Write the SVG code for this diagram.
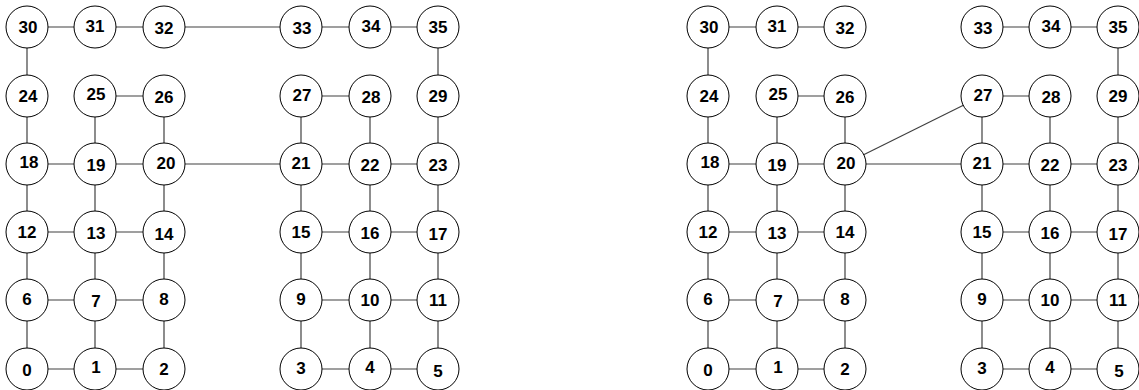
<svg xmlns="http://www.w3.org/2000/svg" width="1139" height="390" viewBox="0 0 1139 390">
<style>
.e{stroke:#404040;stroke-width:1.2;fill:none}
.n circle{fill:#fff;stroke:#000;stroke-width:1}
.n text{font-family:"Liberation Sans",Arial,sans-serif;font-weight:bold;font-size:17px;text-anchor:middle;fill:#000}
</style>
<rect width="1139" height="390" fill="#fff"/>
<g id="connectors">
<line class="e" x1="27" y1="27" x2="95" y2="27"/>
<line class="e" x1="95" y1="27" x2="164" y2="27"/>
<line class="e" x1="164" y1="27" x2="301" y2="27"/>
<line class="e" x1="301" y1="27" x2="370" y2="27"/>
<line class="e" x1="370" y1="27" x2="438" y2="27"/>
<line class="e" x1="95" y1="96" x2="164" y2="96"/>
<line class="e" x1="301" y1="96" x2="370" y2="96"/>
<line class="e" x1="27" y1="164" x2="95" y2="164"/>
<line class="e" x1="95" y1="164" x2="164" y2="164"/>
<line class="e" x1="164" y1="164" x2="301" y2="164"/>
<line class="e" x1="301" y1="164" x2="370" y2="164"/>
<line class="e" x1="370" y1="164" x2="438" y2="164"/>
<line class="e" x1="27" y1="232" x2="95" y2="232"/>
<line class="e" x1="95" y1="232" x2="164" y2="232"/>
<line class="e" x1="301" y1="232" x2="370" y2="232"/>
<line class="e" x1="370" y1="232" x2="438" y2="232"/>
<line class="e" x1="27" y1="300" x2="95" y2="300"/>
<line class="e" x1="95" y1="300" x2="164" y2="300"/>
<line class="e" x1="301" y1="300" x2="370" y2="300"/>
<line class="e" x1="370" y1="300" x2="438" y2="300"/>
<line class="e" x1="27" y1="369" x2="95" y2="369"/>
<line class="e" x1="95" y1="369" x2="164" y2="369"/>
<line class="e" x1="301" y1="369" x2="370" y2="369"/>
<line class="e" x1="370" y1="369" x2="438" y2="369"/>
<line class="e" x1="27" y1="27" x2="27" y2="96"/>
<line class="e" x1="438" y1="27" x2="438" y2="96"/>
<line class="e" x1="27" y1="96" x2="27" y2="369"/>
<line class="e" x1="95" y1="96" x2="95" y2="369"/>
<line class="e" x1="164" y1="96" x2="164" y2="369"/>
<line class="e" x1="301" y1="96" x2="301" y2="369"/>
<line class="e" x1="370" y1="96" x2="370" y2="369"/>
<line class="e" x1="438" y1="96" x2="438" y2="369"/>
<line class="e" x1="708" y1="27" x2="777" y2="27"/>
<line class="e" x1="777" y1="27" x2="845" y2="27"/>
<line class="e" x1="982" y1="27" x2="1050" y2="27"/>
<line class="e" x1="1050" y1="27" x2="1118" y2="27"/>
<line class="e" x1="777" y1="96" x2="845" y2="96"/>
<line class="e" x1="982" y1="96" x2="1050" y2="96"/>
<line class="e" x1="845" y1="164" x2="982" y2="96"/>
<line class="e" x1="708" y1="164" x2="777" y2="164"/>
<line class="e" x1="777" y1="164" x2="845" y2="164"/>
<line class="e" x1="845" y1="164" x2="982" y2="164"/>
<line class="e" x1="982" y1="164" x2="1050" y2="164"/>
<line class="e" x1="1050" y1="164" x2="1118" y2="164"/>
<line class="e" x1="708" y1="232" x2="777" y2="232"/>
<line class="e" x1="777" y1="232" x2="845" y2="232"/>
<line class="e" x1="982" y1="232" x2="1050" y2="232"/>
<line class="e" x1="1050" y1="232" x2="1118" y2="232"/>
<line class="e" x1="708" y1="300" x2="777" y2="300"/>
<line class="e" x1="777" y1="300" x2="845" y2="300"/>
<line class="e" x1="982" y1="300" x2="1050" y2="300"/>
<line class="e" x1="1050" y1="300" x2="1118" y2="300"/>
<line class="e" x1="708" y1="369" x2="777" y2="369"/>
<line class="e" x1="777" y1="369" x2="845" y2="369"/>
<line class="e" x1="982" y1="369" x2="1050" y2="369"/>
<line class="e" x1="1050" y1="369" x2="1118" y2="369"/>
<line class="e" x1="708" y1="27" x2="708" y2="96"/>
<line class="e" x1="1118" y1="27" x2="1118" y2="96"/>
<line class="e" x1="708" y1="96" x2="708" y2="369"/>
<line class="e" x1="777" y1="96" x2="777" y2="369"/>
<line class="e" x1="845" y1="96" x2="845" y2="369"/>
<line class="e" x1="982" y1="96" x2="982" y2="369"/>
<line class="e" x1="1050" y1="96" x2="1050" y2="369"/>
<line class="e" x1="1118" y1="96" x2="1118" y2="369"/>
</g>
<g id="left-graph">
<g id="L0" class="n"><circle cx="27" cy="369" r="21"/><text x="27" y="376">0</text></g>
<g id="L1" class="n"><circle cx="95" cy="369" r="21"/><text x="96" y="373">1</text></g>
<g id="L2" class="n"><circle cx="164" cy="369" r="21"/><text x="164" y="375">2</text></g>
<g id="L3" class="n"><circle cx="301" cy="369" r="21"/><text x="301" y="374">3</text></g>
<g id="L4" class="n"><circle cx="370" cy="369" r="21"/><text x="370" y="373">4</text></g>
<g id="L5" class="n"><circle cx="438" cy="369" r="21"/><text x="438" y="377">5</text></g>
<g id="L6" class="n"><circle cx="27" cy="300" r="21"/><text x="27" y="305">6</text></g>
<g id="L7" class="n"><circle cx="95" cy="300" r="21"/><text x="96" y="307">7</text></g>
<g id="L8" class="n"><circle cx="164" cy="300" r="21"/><text x="164" y="305">8</text></g>
<g id="L9" class="n"><circle cx="301" cy="300" r="21"/><text x="301" y="305">9</text></g>
<g id="L10" class="n"><circle cx="370" cy="300" r="21"/><text x="370" y="306">10</text></g>
<g id="L11" class="n"><circle cx="438" cy="300" r="21"/><text x="438" y="306">11</text></g>
<g id="L12" class="n"><circle cx="27" cy="232" r="21"/><text x="27" y="238">12</text></g>
<g id="L13" class="n"><circle cx="95" cy="232" r="21"/><text x="96" y="239">13</text></g>
<g id="L14" class="n"><circle cx="164" cy="232" r="21"/><text x="164" y="240">14</text></g>
<g id="L15" class="n"><circle cx="301" cy="232" r="21"/><text x="301" y="238">15</text></g>
<g id="L16" class="n"><circle cx="370" cy="232" r="21"/><text x="370" y="239">16</text></g>
<g id="L17" class="n"><circle cx="438" cy="232" r="21"/><text x="438" y="240">17</text></g>
<g id="L18" class="n"><circle cx="27" cy="164" r="21"/><text x="29" y="168">18</text></g>
<g id="L19" class="n"><circle cx="95" cy="164" r="21"/><text x="96" y="171">19</text></g>
<g id="L20" class="n"><circle cx="164" cy="164" r="21"/><text x="166" y="169">20</text></g>
<g id="L21" class="n"><circle cx="301" cy="164" r="21"/><text x="301" y="169">21</text></g>
<g id="L22" class="n"><circle cx="370" cy="164" r="21"/><text x="370" y="171">22</text></g>
<g id="L23" class="n"><circle cx="438" cy="164" r="21"/><text x="438" y="171">23</text></g>
<g id="L24" class="n"><circle cx="27" cy="96" r="21"/><text x="28" y="102">24</text></g>
<g id="L25" class="n"><circle cx="95" cy="96" r="21"/><text x="96" y="100">25</text></g>
<g id="L26" class="n"><circle cx="164" cy="96" r="21"/><text x="164" y="103">26</text></g>
<g id="L27" class="n"><circle cx="301" cy="96" r="21"/><text x="302" y="101">27</text></g>
<g id="L28" class="n"><circle cx="370" cy="96" r="21"/><text x="371" y="103">28</text></g>
<g id="L29" class="n"><circle cx="438" cy="96" r="21"/><text x="438" y="102">29</text></g>
<g id="L30" class="n"><circle cx="27" cy="27" r="21"/><text x="28" y="33">30</text></g>
<g id="L31" class="n"><circle cx="95" cy="27" r="21"/><text x="95" y="32">31</text></g>
<g id="L32" class="n"><circle cx="164" cy="27" r="21"/><text x="164" y="34">32</text></g>
<g id="L33" class="n"><circle cx="301" cy="27" r="21"/><text x="302" y="34">33</text></g>
<g id="L34" class="n"><circle cx="370" cy="27" r="21"/><text x="371" y="32">34</text></g>
<g id="L35" class="n"><circle cx="438" cy="27" r="21"/><text x="438" y="33">35</text></g>
</g>
<g id="right-graph">
<g id="R0" class="n"><circle cx="708" cy="369" r="21"/><text x="708" y="376">0</text></g>
<g id="R1" class="n"><circle cx="777" cy="369" r="21"/><text x="778" y="373">1</text></g>
<g id="R2" class="n"><circle cx="845" cy="369" r="21"/><text x="845" y="375">2</text></g>
<g id="R3" class="n"><circle cx="982" cy="369" r="21"/><text x="982" y="374">3</text></g>
<g id="R4" class="n"><circle cx="1050" cy="369" r="21"/><text x="1050" y="373">4</text></g>
<g id="R5" class="n"><circle cx="1118" cy="369" r="21"/><text x="1119" y="377">5</text></g>
<g id="R6" class="n"><circle cx="708" cy="300" r="21"/><text x="708" y="305">6</text></g>
<g id="R7" class="n"><circle cx="777" cy="300" r="21"/><text x="778" y="307">7</text></g>
<g id="R8" class="n"><circle cx="845" cy="300" r="21"/><text x="845" y="305">8</text></g>
<g id="R9" class="n"><circle cx="982" cy="300" r="21"/><text x="982" y="305">9</text></g>
<g id="R10" class="n"><circle cx="1050" cy="300" r="21"/><text x="1050" y="306">10</text></g>
<g id="R11" class="n"><circle cx="1118" cy="300" r="21"/><text x="1118" y="306">11</text></g>
<g id="R12" class="n"><circle cx="708" cy="232" r="21"/><text x="708" y="238">12</text></g>
<g id="R13" class="n"><circle cx="777" cy="232" r="21"/><text x="777" y="239">13</text></g>
<g id="R14" class="n"><circle cx="845" cy="232" r="21"/><text x="845" y="238">14</text></g>
<g id="R15" class="n"><circle cx="982" cy="232" r="21"/><text x="982" y="238">15</text></g>
<g id="R16" class="n"><circle cx="1050" cy="232" r="21"/><text x="1050" y="239">16</text></g>
<g id="R17" class="n"><circle cx="1118" cy="232" r="21"/><text x="1118" y="240">17</text></g>
<g id="R18" class="n"><circle cx="708" cy="164" r="21"/><text x="710" y="168">18</text></g>
<g id="R19" class="n"><circle cx="777" cy="164" r="21"/><text x="777" y="171">19</text></g>
<g id="R20" class="n"><circle cx="845" cy="164" r="21"/><text x="846" y="169">20</text></g>
<g id="R21" class="n"><circle cx="982" cy="164" r="21"/><text x="982" y="169">21</text></g>
<g id="R22" class="n"><circle cx="1050" cy="164" r="21"/><text x="1050" y="171">22</text></g>
<g id="R23" class="n"><circle cx="1118" cy="164" r="21"/><text x="1118" y="171">23</text></g>
<g id="R24" class="n"><circle cx="708" cy="96" r="21"/><text x="709" y="102">24</text></g>
<g id="R25" class="n"><circle cx="777" cy="96" r="21"/><text x="778" y="100">25</text></g>
<g id="R26" class="n"><circle cx="845" cy="96" r="21"/><text x="845" y="103">26</text></g>
<g id="R27" class="n"><circle cx="982" cy="96" r="21"/><text x="983" y="101">27</text></g>
<g id="R28" class="n"><circle cx="1050" cy="96" r="21"/><text x="1051" y="103">28</text></g>
<g id="R29" class="n"><circle cx="1118" cy="96" r="21"/><text x="1118" y="102">29</text></g>
<g id="R30" class="n"><circle cx="708" cy="27" r="21"/><text x="709" y="33">30</text></g>
<g id="R31" class="n"><circle cx="777" cy="27" r="21"/><text x="777" y="32">31</text></g>
<g id="R32" class="n"><circle cx="845" cy="27" r="21"/><text x="845" y="34">32</text></g>
<g id="R33" class="n"><circle cx="982" cy="27" r="21"/><text x="983" y="34">33</text></g>
<g id="R34" class="n"><circle cx="1050" cy="27" r="21"/><text x="1051" y="32">34</text></g>
<g id="R35" class="n"><circle cx="1118" cy="27" r="21"/><text x="1118" y="33">35</text></g>
</g>
</svg>
